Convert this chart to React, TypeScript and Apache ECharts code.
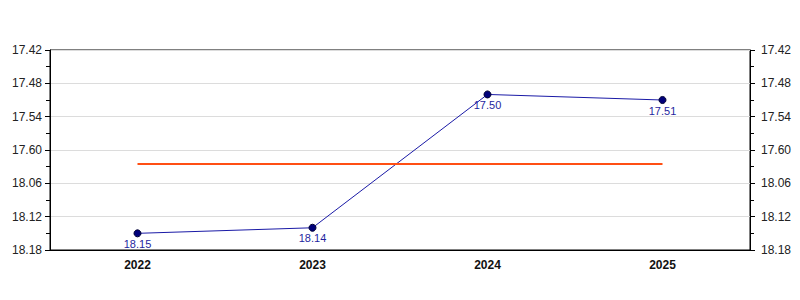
import React, { useEffect, useRef } from "react";
import * as echarts from "echarts";

const categories = ["2022", "2023", "2024", "2025"];
const timeLabels = ["18.15", "18.14", "17.50", "17.51"];
const tickLabels = ["17.42", "17.48", "17.54", "17.60", "18.06", "18.12", "18.18"];
const axisMin = 1062; // minutes (17.42)
const axisMax = 1098; // minutes (18.18)
const axisStep = 6;

const toMinutes = (s: string) => {
  const [h, m] = s.split(".").map(Number);
  return h * 60 + m;
};

export default function App() {
  const ref = useRef<HTMLDivElement>(null);
  useEffect(() => {
    if (!ref.current) return;
    const chart = echarts.init(ref.current, undefined, { renderer: "svg" });
    const values = timeLabels.map(toMinutes);
    const avg = values.reduce((a, b) => a + b, 0) / values.length;
    const fmt = (v: number) => tickLabels[Math.round((v - axisMin) / axisStep)] ?? "";
    const yCommon = {
      type: "value" as const,
      inverse: true,
      min: axisMin,
      max: axisMax,
      interval: axisStep,
      axisLine: { show: true, lineStyle: { color: "#000", width: 1 } },
      axisTick: { show: true, length: 5, lineStyle: { color: "#000" } },
      minorTick: { show: true, splitNumber: 2, length: 4, lineStyle: { color: "#000" } },
    };
    const yLabel = {
      formatter: fmt,
      color: "#222",
      fontSize: 12,
      fontFamily: "Liberation Sans, Arial, sans-serif",
    };
    chart.setOption({
      animation: false,
      grid: {
        left: 50,
        right: 50,
        top: 50,
        bottom: 50,
        show: true,
        borderColor: "#000",
        borderWidth: 1,
        backgroundColor: "transparent",
      },
      xAxis: {
        type: "category",
        data: categories,
        boundaryGap: true,
        axisLine: { lineStyle: { color: "#000", width: 1 } },
        axisTick: { alignWithLabel: true, length: 4, lineStyle: { color: "#000" } },
        axisLabel: {
          color: "#111",
          fontSize: 12,
          fontWeight: "bold",
          fontFamily: "Liberation Sans, Arial, sans-serif",
          margin: 9,
        },
        splitLine: { show: false },
      },
      yAxis: [
        {
          ...yCommon,
          position: "left",
          axisLabel: { ...yLabel, margin: 8 },
          splitLine: { show: true, lineStyle: { color: "#dcdcdc", width: 1 } },
        },
        {
          ...yCommon,
          position: "right",
          axisLabel: { ...yLabel, margin: 11 },
          splitLine: { show: false },
        },
      ],
      series: [
        {
          type: "line",
          data: values,
          yAxisIndex: 0,
          symbol: "circle",
          symbolSize: 7,
          lineStyle: { color: "#1a1aa6", width: 1 },
          itemStyle: { color: "#00007a", borderColor: "#000033", borderWidth: 1 },
          label: {
            show: true,
            position: "bottom",
            distance: 1,
            formatter: (p: any) => timeLabels[p.dataIndex],
            color: "#1f1fa0",
            fontSize: 11,
            fontFamily: "Liberation Sans, Arial, sans-serif",
          },
          markLine: {
            silent: true,
            symbol: ["none", "none"],
            label: { show: false },
            lineStyle: { color: "#ff4f14", width: 2, type: "solid" },
            data: [
              [
                { coord: [0, avg] },
                { coord: [categories.length - 1, avg] },
              ],
            ],
          },
        },
      ],
    });
    return () => chart.dispose();
  }, []);
  return <div ref={ref} style={{ width: 800, height: 300, marginLeft: -8, marginTop: -8 }} />;
}
